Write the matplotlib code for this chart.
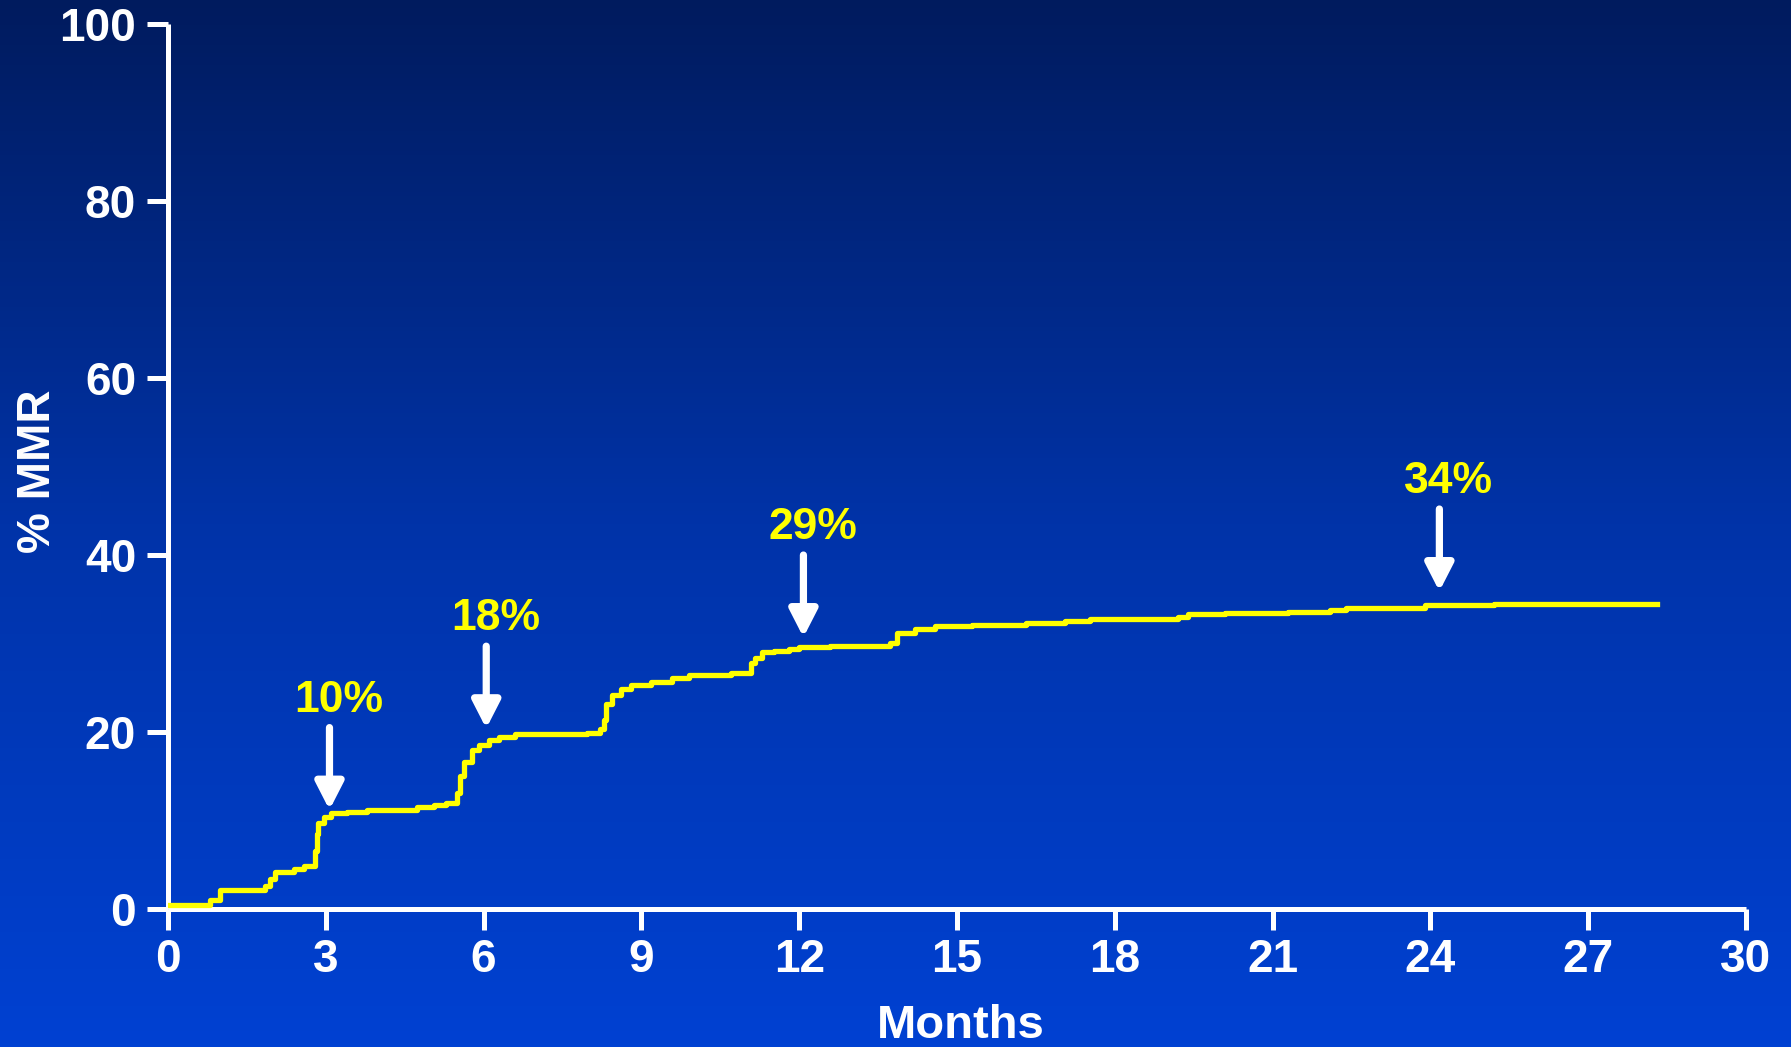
import numpy as np
import matplotlib
matplotlib.use('Agg')
import matplotlib.pyplot as plt
from matplotlib.colors import LinearSegmentedColormap

plt.rcParams['font.family'] = ['Liberation Sans', 'DejaVu Sans']
plt.rcParams['font.weight'] = 'bold'

# cumulative MMR curve (step starts, in months, and % reached)
months = [0.0, 0.8, 0.99, 1.85, 1.94, 2.04, 2.39, 2.58, 2.80, 2.83, 2.86, 2.96,
          3.09, 3.4, 3.78, 4.74, 5.05, 5.28, 5.50, 5.55, 5.63, 5.78, 5.91, 6.1,
          6.3, 6.6, 7.97, 8.22, 8.29, 8.33, 8.45, 8.61, 8.8, 9.18, 9.59, 9.91,
          10.7, 11.09, 11.15, 11.3, 11.53, 11.8, 12.0, 12.58, 13.72, 13.85,
          14.2, 14.58, 15.28, 16.32, 17.05, 17.53, 19.2, 19.4, 20.1, 21.3,
          22.1, 22.4, 23.9, 25.2, 28.3]
mmr = [0.4, 1.0, 2.1, 2.6, 3.4, 4.2, 4.5, 4.9, 6.5, 8.5, 9.7, 10.4,
       10.8, 11.0, 11.2, 11.5, 11.7, 12.0, 13.1, 15.0, 16.6, 18.0, 18.5, 19.1,
       19.4, 19.8, 19.9, 20.3, 21.4, 23.2, 24.2, 24.9, 25.3, 25.7, 26.1, 26.5,
       26.7, 27.8, 28.4, 29.0, 29.2, 29.4, 29.6, 29.75, 30.1, 31.2,
       31.6, 32.0, 32.1, 32.3, 32.6, 32.8, 33.0, 33.3, 33.5, 33.6,
       33.8, 34.0, 34.3, 34.5, 34.5]

# milestone callouts
call_labels = ['10%', '18%', '29%', '34%']
call_x = [3.07, 6.05, 12.08, 24.17]
call_tip = [11.2, 20.4, 30.7, 35.9]

xticks = np.arange(0, 31, 3)
yticks = np.arange(0, 101, 20)

fig = plt.figure(figsize=(17.91, 10.47), dpi=100)

# blue gradient backdrop
bg = fig.add_axes([0, 0, 1, 1], zorder=0)
grad = LinearSegmentedColormap.from_list(
    'bg', [(0, '#0041d2'), (0.5, '#0033a8'), (1, '#001b5e')])
bg.imshow(np.linspace(0, 1, 256).reshape(-1, 1), aspect='auto', cmap=grad,
          origin='lower', extent=[0, 1, 0, 1])
bg.axis('off')

ax = fig.add_axes([0.0938, 0.1318, 0.8811, 0.8452], zorder=1)
ax.patch.set_alpha(0)

ax.step(months, mmr, where='post', color='#ffff00', lw=3.8, zorder=3)

for lab, x, tip in zip(call_labels, call_x, call_tip):
    ax.annotate('', xy=(x, tip), xytext=(x, tip + 9.3),
                arrowprops=dict(arrowstyle='-|>,head_length=0.82,head_width=0.42',
                                mutation_scale=20, color='white', lw=5.2,
                                shrinkA=0, shrinkB=0))
    ax.text(x + 0.18, tip + 12.4, lab, color='#ffff00', fontsize=32,
            fontweight='bold', ha='center', va='center')

ax.set_xlim(0, 30)
ax.set_ylim(0, 100)
ax.set_xticks(xticks)
ax.set_yticks(yticks)

for s in ['top', 'right']:
    ax.spines[s].set_visible(False)
for s in ['left', 'bottom']:
    ax.spines[s].set_color('white')
    ax.spines[s].set_linewidth(3.6)
    ax.spines[s].set_capstyle('butt')

ax.tick_params(axis='both', colors='white', width=3.6, length=15,
               labelsize=33)
ax.tick_params(axis='x', pad=6)
ax.tick_params(axis='y', pad=8)
for t in ax.get_xticklabels() + ax.get_yticklabels():
    t.set_fontweight('bold')

ax.set_xlabel('Months', color='white', fontsize=34, fontweight='bold')
ax.xaxis.label.set_va('baseline')
ax.xaxis.set_label_coords(0.5025, -0.146)
ax.set_ylabel('% MMR', color='white', fontsize=33, fontweight='bold')
ax.yaxis.label.set_va('center')
ax.yaxis.set_label_coords(-0.0824, 0.495)

fig.savefig('out.png', dpi=100)
